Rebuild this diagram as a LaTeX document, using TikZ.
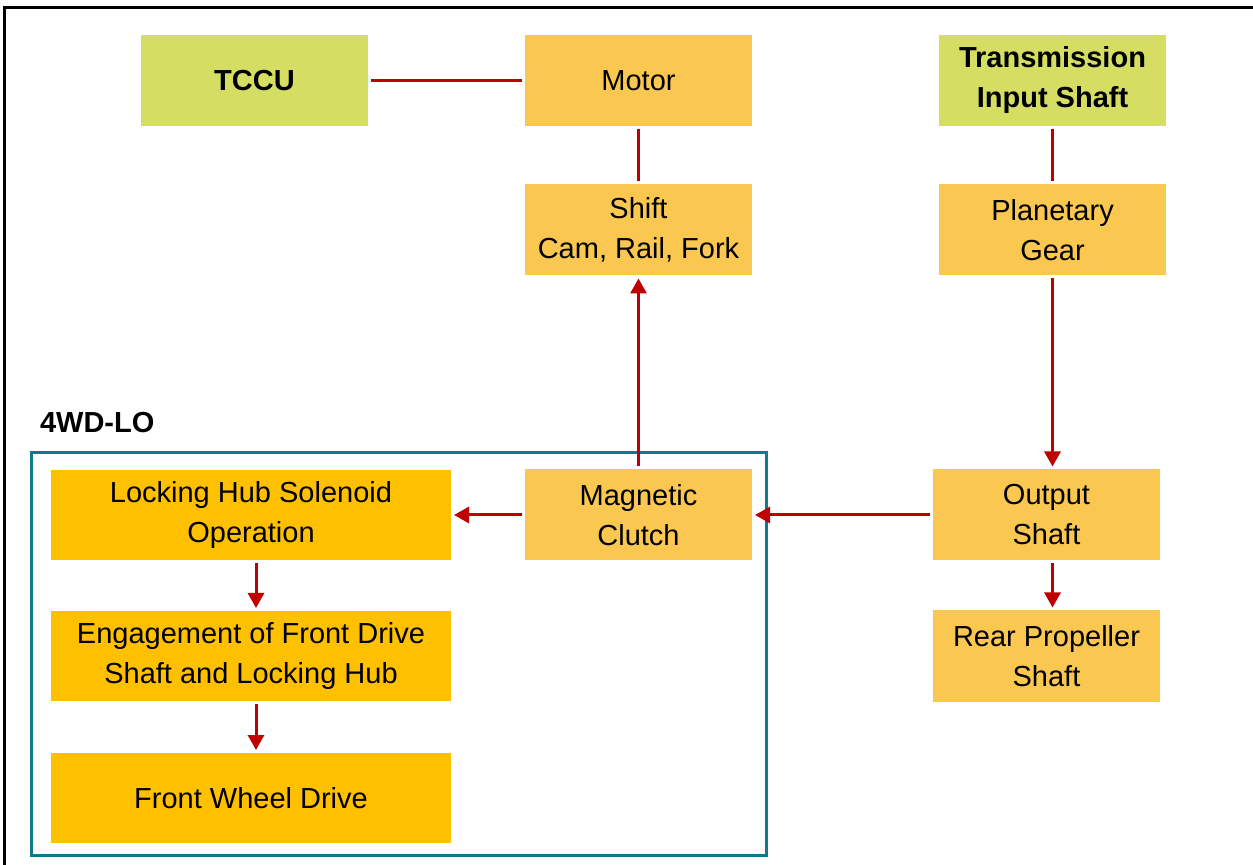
\documentclass[tikz,border=0pt]{standalone}
\usepackage{fontspec}
\setmainfont{Liberation Sans}
\usetikzlibrary{arrows.meta,positioning}

\definecolor{lime}{RGB}{213,222,98}
\definecolor{pale}{RGB}{250,200,80}
\definecolor{gold}{RGB}{255,192,0}
\definecolor{wire}{RGB}{192,0,0}
\definecolor{sea}{RGB}{16,120,143}

\begin{document}
\begin{tikzpicture}[
        x=0.5pt, y=-0.5pt,
    every node/.style={font=\fontsize{14.5}{20}\selectfont, align=center, inner sep=0pt, outer sep=1.5pt},
    unit/.style={fill=pale, minimum width=113.5pt, minimum height=45.5pt},
    ctrl/.style={unit, fill=lime, font=\fontsize{14.5}{20}\selectfont\bfseries},
    lo/.style={fill=gold, minimum width=200pt, minimum height=45pt},
    link/.style={draw=wire, line width=1.5pt},
    flow/.style={link, -{Triangle[length=7.5pt,width=8pt]}}
]
    \useasboundingbox (0,0) rectangle (1253,865);

    \draw [line width=1.5pt] (1253,8) -- (4,8) -- (4,865);
    \draw [draw=sea, line width=1.5pt] (31,453) rectangle (766,855);

    \node [anchor=west, font=\fontsize{14.5}{20}\selectfont\bfseries] (lolabel) at (37,423) {4WD-LO};

    \node [ctrl] (tccu) at (254.5,80.5) {TCCU};
    \node [unit] (motor) at (638.5,80.5) {Motor};
    \node [ctrl] (tis) at (1052.5,80.5) {Transmission\\Input Shaft};
    \node [unit] (shift) at (638.5,230) {Shift\\Cam, Rail, Fork};
    \node [unit] (plan) at (1052.5,230) {Planetary\\Gear};
    \node [lo] (hub) at (251,515) {Locking Hub Solenoid\\Operation};
    \node [unit] (clutch) at (638.5,515) {Magnetic\\Clutch};
    \node [unit] (out) at (1046.5,515) {Output\\Shaft};
    \node [lo] (eng) at (251,656) {Engagement of Front Drive\\Shaft and Locking Hub};
    \node [lo] (fwd) at (251,798) {Front Wheel Drive};
    \node [unit] (rear) at (1046.5,656) {Rear Propeller\\Shaft};

    \draw [link] (tccu) -- (motor);
    \draw [link] (motor) -- (shift);
    \draw [link] (tis) -- (plan);
    \draw [flow] (clutch) -- (shift);
    \draw [flow] (plan.south) -- (plan.south |- out.north);
    \draw [flow] (out) -- (clutch);
    \draw [flow] (clutch) -- (hub);
    \draw [flow] ([xshift=2.5pt]hub.south) -- ([xshift=2.5pt]eng.north);
    \draw [flow] ([xshift=2.5pt]eng.south) -- ([xshift=2.5pt]fwd.north);
    \draw [flow] (out.south -| plan.south) -- (rear.north -| plan.south);
  \end{tikzpicture}
\end{document}
